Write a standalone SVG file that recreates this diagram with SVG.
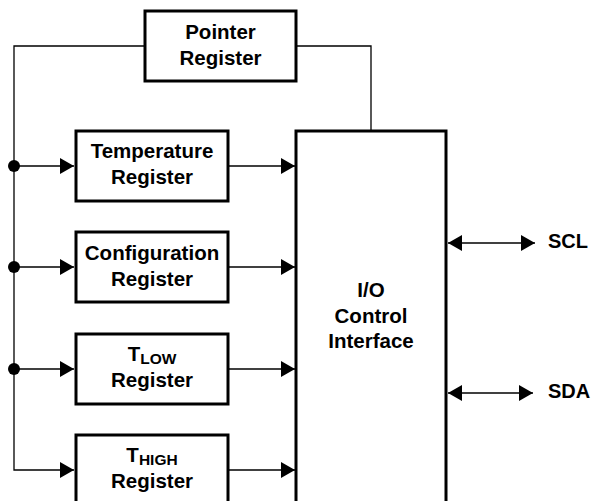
<svg xmlns="http://www.w3.org/2000/svg" width="591" height="501" viewBox="0 0 591 501">
<defs>
<style>
.box{fill:#fff;stroke:#000;stroke-width:3}
.ln{fill:none;stroke:#000;stroke-width:1.3}
.t{font-family:"Liberation Sans",Arial,Helvetica,sans-serif;font-weight:bold;font-size:20.5px;fill:#000;text-anchor:middle}
.sub{font-size:15.5px}
.lbl{font-family:"Liberation Sans",Arial,Helvetica,sans-serif;font-weight:bold;font-size:20px;fill:#000}
</style>
<marker id="arr" markerWidth="14" markerHeight="16" refX="14" refY="8" orient="auto-start-reverse" markerUnits="userSpaceOnUse">
<path d="M0,0 L14,8 L0,16 z" fill="#000"/>
</marker>
</defs>
<rect width="591" height="501" fill="#fff"/>
<g id="connectors">
<polyline class="ln" points="145,46 14,46 14,470 74,470" marker-end="url(#arr)"/>
<polyline class="ln" points="296,46 371,46 371,131"/>
<line class="ln" x1="14" y1="166" x2="74" y2="166" marker-end="url(#arr)"/>
<line class="ln" x1="14" y1="267" x2="74" y2="267" marker-end="url(#arr)"/>
<line class="ln" x1="14" y1="369" x2="74" y2="369" marker-end="url(#arr)"/>
<line class="ln" x1="228" y1="166" x2="295" y2="166" marker-end="url(#arr)"/>
<line class="ln" x1="228" y1="267" x2="295" y2="267" marker-end="url(#arr)"/>
<line class="ln" x1="228" y1="369" x2="295" y2="369" marker-end="url(#arr)"/>
<line class="ln" x1="228" y1="470" x2="295" y2="470" marker-end="url(#arr)"/>
<line class="ln" x1="448" y1="243" x2="535" y2="243" marker-start="url(#arr)" marker-end="url(#arr)"/>
<line class="ln" x1="448" y1="393" x2="533" y2="393" marker-start="url(#arr)" marker-end="url(#arr)"/>
<circle cx="14" cy="166" r="6" fill="#000"/>
<circle cx="14" cy="267" r="6" fill="#000"/>
<circle cx="14" cy="369" r="6" fill="#000"/>
</g>
<g id="pointer">
<rect class="box" x="145" y="11" width="151" height="70"/>
<text class="t" x="220.5" y="39">Pointer</text>
<text class="t" x="220.5" y="65">Register</text>
</g>
<g id="temperature">
<rect class="box" x="76" y="131" width="152" height="70"/>
<text class="t" x="152" y="158">Temperature</text>
<text class="t" x="152" y="184">Register</text>
</g>
<g id="configuration">
<rect class="box" x="76" y="232" width="152" height="70"/>
<text class="t" x="152" y="260">Configuration</text>
<text class="t" x="152" y="286">Register</text>
</g>
<g id="tlow">
<rect class="box" x="76" y="334" width="152" height="70"/>
<text class="t" x="152" y="361">T<tspan class="sub" dy="3">LOW</tspan></text>
<text class="t" x="152" y="387">Register</text>
</g>
<g id="thigh">
<rect class="box" x="76" y="435" width="152" height="80"/>
<text class="t" x="152" y="462">T<tspan class="sub" dy="3">HIGH</tspan></text>
<text class="t" x="152" y="488">Register</text>
</g>
<g id="io">
<rect class="box" x="296" y="131" width="150" height="380"/>
<text class="t" x="371" y="297">I/O</text>
<text class="t" x="371" y="323">Control</text>
<text class="t" x="371" y="348">Interface</text>
</g>
<g id="scl"><text class="lbl" x="548" y="248">SCL</text></g>
<g id="sda"><text class="lbl" x="548" y="398">SDA</text></g>
</svg>
